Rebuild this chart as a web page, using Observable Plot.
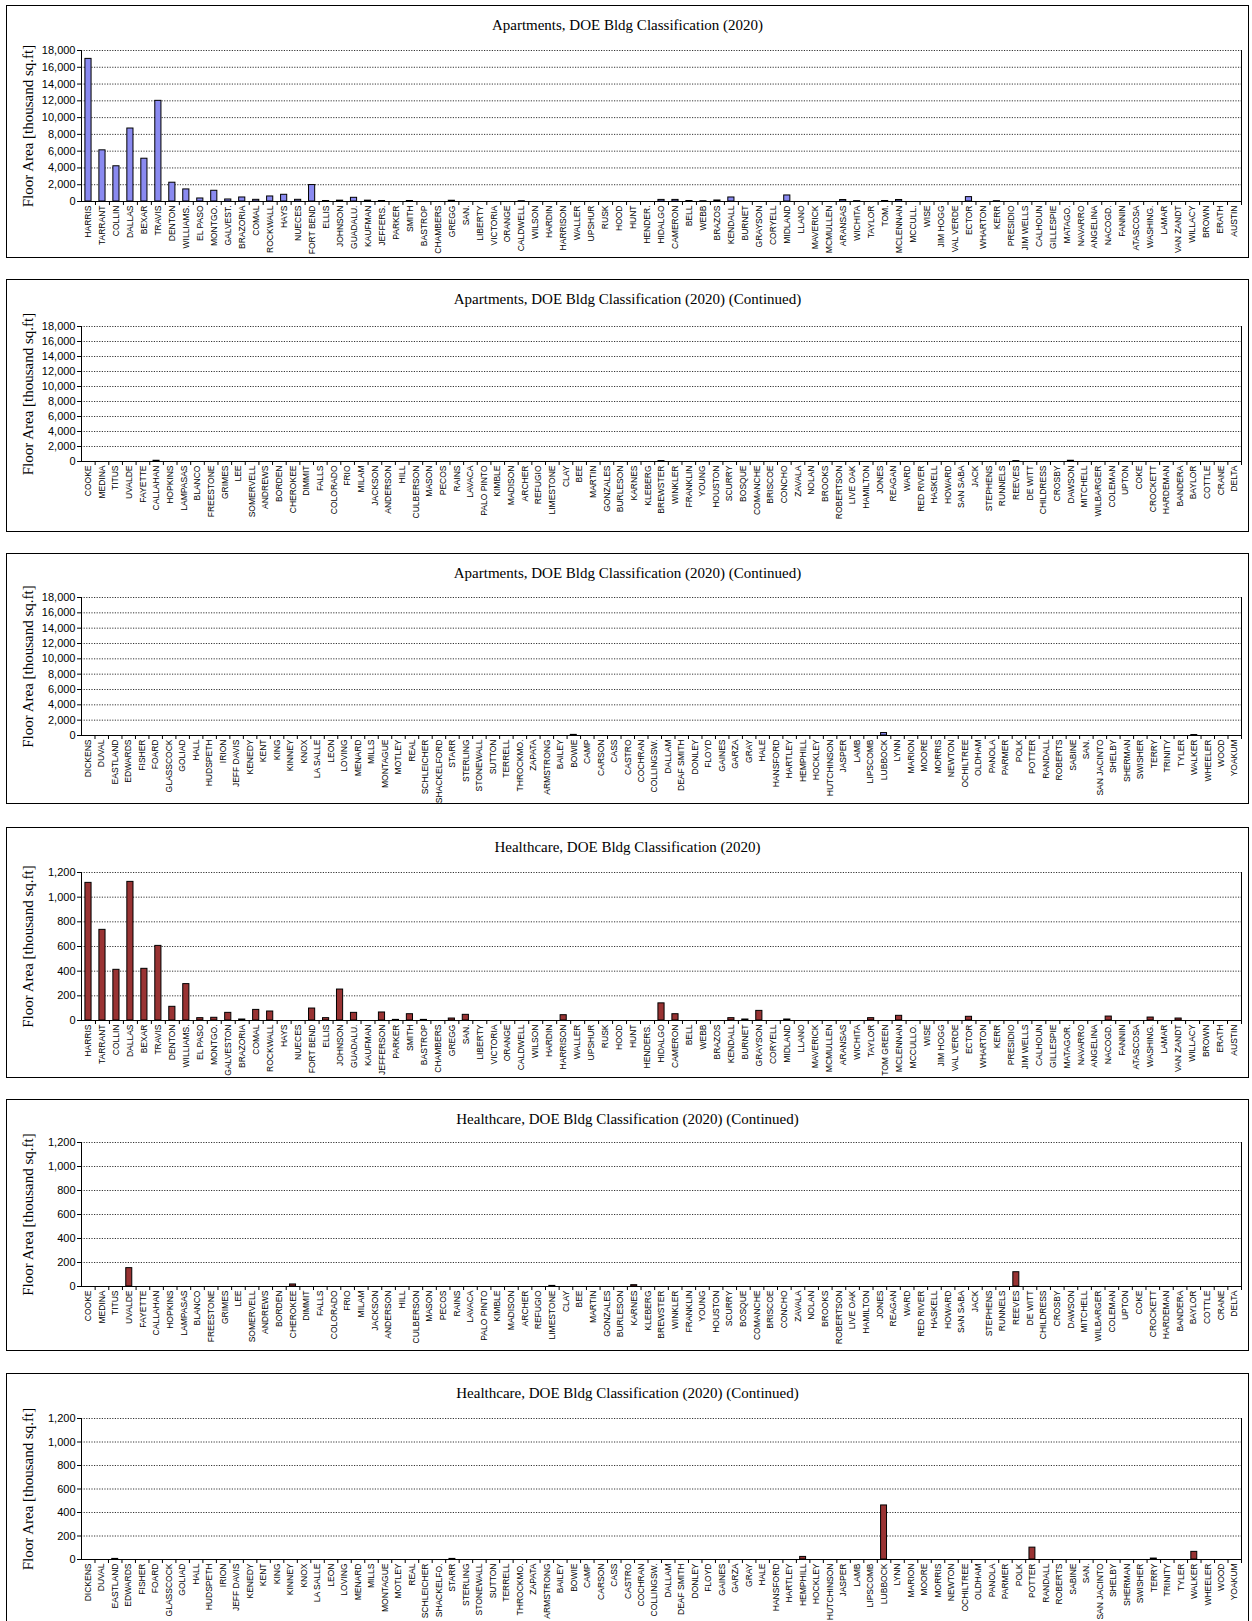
<!DOCTYPE html>
<html><head><meta charset="utf-8">
<script src="https://cdn.jsdelivr.net/npm/d3@7"></script>
<script src="https://cdn.jsdelivr.net/npm/@observablehq/plot@0.6"></script>
<style>
body{margin:0;background:#fff;}
#root{position:relative;width:1252px;height:1621px;overflow:hidden;}
.panel{position:absolute;left:6px;width:1241px;border:1px solid #000;background:#fff;}
.title{position:absolute;left:0;right:0;top:10px;line-height:18px;text-align:center;font-family:"Liberation Serif","Times New Roman",serif;font-size:15px;color:#000;}
.panel svg{position:absolute;left:0;top:0;}
</style></head><body><div id="root"></div><script>
// ---------- DATA ----------
const countiesMainApt = ["HARRIS","TARRANT","COLLIN","DALLAS","BEXAR","TRAVIS","DENTON","WILLIAMS.","EL PASO","MONTGO.",
"GALVEST.","BRAZORIA","COMAL","ROCKWALL","HAYS","NUECES","FORT BEND","ELLIS","JOHNSON","GUADALU.",
"KAUFMAN","JEFFERS.","PARKER","SMITH","BASTROP","CHAMBERS","GREGG","SAN.","LIBERTY","VICTORIA",
"ORANGE","CALDWELL","WILSON","HARDIN","HARRISON","WALLER","UPSHUR","RUSK","HOOD","HUNT",
"HENDER.","HIDALGO","CAMERON","BELL","WEBB","BRAZOS","KENDALL","BURNET","GRAYSON","CORYELL",
"MIDLAND","LLANO","MAVERICK","MCMULLEN","ARANSAS","WICHITA","TAYLOR","TOM.","MCLENNAN","MCCULL.",
"WISE","JIM HOGG","VAL VERDE","ECTOR","WHARTON","KERR","PRESIDIO","JIM WELLS","CALHOUN","GILLESPIE",
"MATAGO.","NAVARRO","ANGELINA","NACOGD.","FANNIN","ATASCOSA","WASHING.","LAMAR","VAN ZANDT","WILLACY",
"BROWN","ERATH","AUSTIN"];
const countiesMainHc = ["HARRIS","TARRANT","COLLIN","DALLAS","BEXAR","TRAVIS","DENTON","WILLIAMS.","EL PASO","MONTGO.",
"GALVESTON","BRAZORIA","COMAL","ROCKWALL","HAYS","NUECES","FORT BEND","ELLIS","JOHNSON","GUADALU.",
"KAUFMAN","JEFFERSON","PARKER","SMITH","BASTROP","CHAMBERS","GREGG","SAN.","LIBERTY","VICTORIA",
"ORANGE","CALDWELL","WILSON","HARDIN","HARRISON","WALLER","UPSHUR","RUSK","HOOD","HUNT",
"HENDERS.","HIDALGO","CAMERON","BELL","WEBB","BRAZOS","KENDALL","BURNET","GRAYSON","CORYELL",
"MIDLAND","LLANO","MAVERICK","MCMULLEN","ARANSAS","WICHITA","TAYLOR","TOM GREEN","MCLENNAN","MCCULLO.",
"WISE","JIM HOGG","VAL VERDE","ECTOR","WHARTON","KERR","PRESIDIO","JIM WELLS","CALHOUN","GILLESPIE",
"MATAGOR.","NAVARRO","ANGELINA","NACOGD.","FANNIN","ATASCOSA","WASHING.","LAMAR","VAN ZANDT","WILLACY",
"BROWN","ERATH","AUSTIN"];
const countiesSecond = ["COOKE","MEDINA","TITUS","UVALDE","FAYETTE","CALLAHAN","HOPKINS","LAMPASAS","BLANCO","FREESTONE",
"GRIMES","LEE","SOMERVELL","ANDREWS","BORDEN","CHEROKEE","DIMMIT","FALLS","COLORADO","FRIO",
"MILAM","JACKSON","ANDERSON","HILL","CULBERSON","MASON","PECOS","RAINS","LAVACA","PALO PINTO",
"KIMBLE","MADISON","ARCHER","REFUGIO","LIMESTONE","CLAY","BEE","MARTIN","GONZALES","BURLESON",
"KARNES","KLEBERG","BREWSTER","WINKLER","FRANKLIN","YOUNG","HOUSTON","SCURRY","BOSQUE","COMANCHE",
"BRISCOE","CONCHO","ZAVALA","NOLAN","BROOKS","ROBERTSON","LIVE OAK","HAMILTON","JONES","REAGAN",
"WARD","RED RIVER","HASKELL","HOWARD","SAN SABA","JACK","STEPHENS","RUNNELS","REEVES","DE WITT",
"CHILDRESS","CROSBY","DAWSON","MITCHELL","WILBARGER","COLEMAN","UPTON","COKE","CROCKETT","HARDEMAN",
"BANDERA","BAYLOR","COTTLE","CRANE","DELTA"];
const countiesThirdApt = ["DICKENS","DUVAL","EASTLAND","EDWARDS","FISHER","FOARD","GLASSCOCK","GOLIAD","HALL","HUDSPETH",
"IRION","JEFF DAVIS","KENEDY","KENT","KING","KINNEY","KNOX","LA SALLE","LEON","LOVING",
"MENARD","MILLS","MONTAGUE","MOTLEY","REAL","SCHLEICHER","SHACKELFORD","STARR","STERLING","STONEWALL",
"SUTTON","TERRELL","THROCKMO.","ZAPATA","ARMSTRONG","BAILEY","BOWIE","CAMP","CARSON","CASS",
"CASTRO","COCHRAN","COLLINGSW.","DALLAM","DEAF SMITH","DONLEY","FLOYD","GAINES","GARZA","GRAY",
"HALE","HANSFORD","HARTLEY","HEMPHILL","HOCKLEY","HUTCHINSON","JASPER","LAMB","LIPSCOMB","LUBBOCK",
"LYNN","MARION","MOORE","MORRIS","NEWTON","OCHILTREE","OLDHAM","PANOLA","PARMER","POLK",
"POTTER","RANDALL","ROBERTS","SABINE","SAN.","SAN JACINTO","SHELBY","SHERMAN","SWISHER","TERRY",
"TRINITY","TYLER","WALKER","WHEELER","WOOD","YOAKUM"];
const countiesThirdHc = countiesThirdApt.map(c => c === "SHACKELFORD" ? "SHACKELFO." : c);

const apt1Values = [17000,6100,4200,8700,5100,12000,2240,1440,360,1280,
 240,480,200,600,800,200,1960,60,100,440,
 100,60,0,60,0,0,90,0,0,0,
 0,30,0,0,0,0,0,0,0,0,
 0,190,190,60,30,120,480,0,0,0,
 720,0,0,0,180,40,0,60,180,0,
 0,0,0,520,0,30,0,0,0,0,
 0,0,0,0,0,0,0,0,0,0,
 0,0,0];
const apt2Values = [0,0,0,0,0,100,0,0,0,0,
 0,0,0,0,0,0,0,0,0,0,
 0,0,0,0,0,0,0,0,0,0,
 0,0,0,0,0,0,0,0,0,0,
 0,0,50,0,0,0,0,0,0,0,
 0,0,0,0,0,0,0,0,0,0,
 0,0,0,0,0,0,0,0,50,0,
 0,0,100,0,0,0,0,0,0,0,
 0,0,0,0,0];
const apt3Values = [0,0,0,0,0,0,0,0,0,0,
 0,0,0,0,0,0,0,0,0,0,
 0,0,0,0,0,0,0,0,0,0,
 0,0,0,0,0,0,80,0,0,0,
 0,0,0,0,0,0,0,0,0,0,
 0,0,0,0,0,0,0,0,0,320,
 0,0,0,0,0,0,0,0,0,0,
 0,0,0,0,0,0,0,0,0,0,
 0,0,60,0,0,0];
const hc1Values = [1116,735,411,1124,419,605,111,295,19,22,
 62,8,86,73,0,0,97,19,251,62,
 0,65,5,51,5,0,16,46,0,0,
 0,0,0,0,43,0,0,0,0,0,
 0,139,51,0,0,0,19,8,78,0,
 8,0,0,0,0,0,19,0,38,0,
 0,0,0,30,0,0,0,0,0,0,
 0,0,0,32,0,0,24,0,16,0,
 0,0,0];
const hc2Values = [0,0,0,153,0,0,0,0,0,0,
 0,0,0,0,0,17,0,0,0,0,
 0,0,0,0,0,0,0,0,0,0,
 0,0,0,0,5,0,0,0,0,0,
 11,0,0,0,0,0,0,0,0,0,
 0,0,0,0,0,0,0,0,0,0,
 0,0,0,0,0,0,0,0,119,0,
 0,0,0,0,0,0,0,0,0,0,
 0,0,0,0,0];
const hc3Values = [0,0,5,0,0,0,0,0,0,0,
 0,0,0,0,0,0,0,0,0,0,
 0,0,0,0,0,0,0,5,0,0,
 0,0,0,0,0,0,0,0,0,0,
 0,0,0,0,0,0,0,0,0,0,
 0,0,0,22,0,0,0,0,0,460,
 0,0,0,0,0,0,0,0,0,0,
 101,0,0,0,0,0,0,0,0,8,
 0,0,65,0,0,0];

const titles = ["Apartments, DOE Bldg Classification (2020)",
 "Apartments, DOE Bldg Classification (2020) (Continued)",
 "Apartments, DOE Bldg Classification (2020) (Continued)",
 "Healthcare, DOE Bldg Classification (2020)",
 "Healthcare, DOE Bldg Classification (2020) (Continued)",
 "Healthcare, DOE Bldg Classification (2020) (Continued)"];
const aptTicks = [0,2000,4000,6000,8000,10000,12000,14000,16000,18000];
const hcTicks = [0,200,400,600,800,1000,1200];
const yLabel = "Floor Area [thousand sq.ft]";

// ---------- LAYOUT / STYLE ----------
const aptColor = "#8a8af0", hcColor = "#993333";
const panels = [
 {counties: countiesMainApt, values: apt1Values, ticks: aptTicks, color: aptColor, top: 5,    h: 251, mt: 44, ph: 151},
 {counties: countiesSecond,  values: apt2Values, ticks: aptTicks, color: aptColor, top: 279,  h: 251, mt: 46, ph: 135},
 {counties: countiesThirdApt,values: apt3Values, ticks: aptTicks, color: aptColor, top: 553,  h: 249, mt: 43, ph: 138},
 {counties: countiesMainHc,  values: hc1Values,  ticks: hcTicks,  color: hcColor,  top: 827,  h: 249, mt: 44, ph: 148},
 {counties: countiesSecond,  values: hc2Values,  ticks: hcTicks,  color: hcColor,  top: 1099, h: 250, mt: 42, ph: 144},
 {counties: countiesThirdHc, values: hc3Values,  ticks: hcTicks,  color: hcColor,  top: 1373, h: 252, mt: 44, ph: 141}
];

const root = document.getElementById("root");
const W = 1241, ML = 74, MR = 7;
const fmt = d3.format(",");

panels.forEach((p, k) => {
  const div = document.createElement("div");
  div.className = "panel";
  div.style.top = p.top + "px";
  div.style.height = p.h + "px";
  const t = document.createElement("div");
  t.className = "title";
  t.textContent = titles[k];
  const n = p.counties.length;
  const step = (W - ML - MR) / n;
  const data = p.counties.map((c, i) => ({county: c, value: p.values[i]}));
  const yMax = p.ticks[p.ticks.length - 1];
  const chart = Plot.plot({
    width: W, height: p.h,
    marginLeft: ML, marginRight: MR, marginTop: p.mt, marginBottom: p.h - p.mt - p.ph,
    style: {fontFamily: "'Liberation Sans', Arial, sans-serif", background: "transparent", color: "#000", overflow: "visible"},
    x: {domain: p.counties, padding: 0, label: null},
    y: {domain: [0, yMax], label: null},
    marks: [
      Plot.gridY(p.ticks, {stroke: "#000", strokeOpacity: 1, strokeWidth: 0.8, strokeDasharray: "1.2,1.4"}),
      Plot.barY(data, {x: "county", y: "value", fill: p.color, stroke: "#000", strokeWidth: 1,
        insetLeft: step * 0.28, insetRight: step * 0.28}),
      Plot.ruleY([0], {stroke: "#000", strokeWidth: 1}),
      Plot.ruleX([p.counties[0]], {stroke: "#000", dx: -step / 2}),
      Plot.ruleX([p.counties[n - 1]], {stroke: "#000", dx: step / 2}),
      Plot.axisY(p.ticks, {tickSize: 4, tickPadding: 2, fontSize: 11, tickFormat: fmt, label: null}),
      Plot.axisX({tickSize: 0, tickPadding: 4, tickRotate: -90, fontSize: 8.5, label: null}),
      Plot.axisX({tickSize: 4, tickFormat: () => "", dx: step / 2, label: null}),
      Plot.text([yLabel], {frameAnchor: "left", rotate: -90, dx: -53, textAnchor: "middle", lineAnchor: "middle",
        fontFamily: "'Liberation Serif', 'Times New Roman', serif", fontSize: 15, fill: "#000"})
    ]
  });
  div.appendChild(chart);
  div.appendChild(t);
  root.appendChild(div);
});
</script></body></html>
